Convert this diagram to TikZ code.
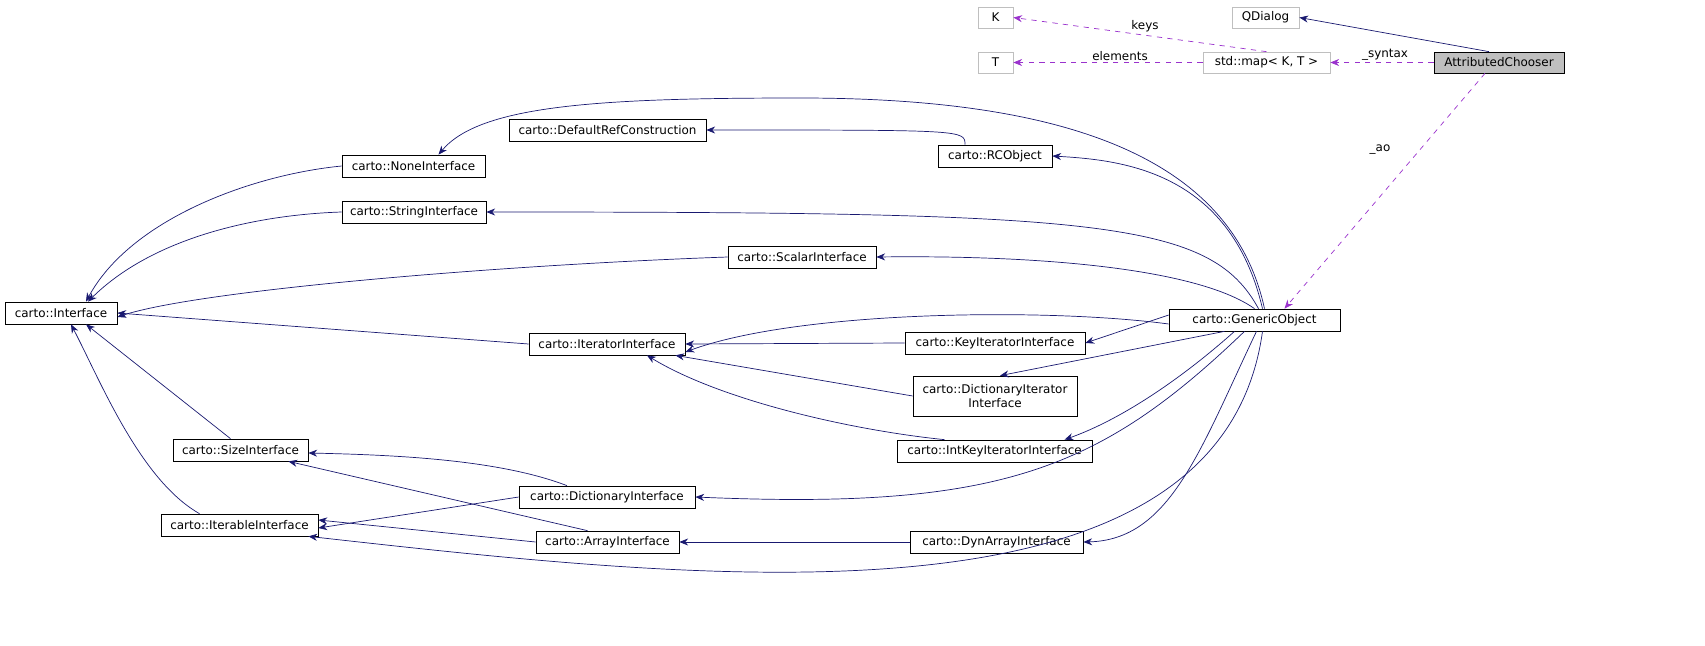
\documentclass[tikz,border=0pt]{standalone}
\usepackage{fontspec}
\setmainfont{DejaVu Sans}
\usetikzlibrary{arrows.meta}
\definecolor{navy}{HTML}{191970}
\definecolor{usecol}{HTML}{9A32CD}
\definecolor{extgray}{HTML}{BFBFBF}
\tikzset{
  cls/.style={draw=black, fill=white, inner sep=1pt, font=\fontsize{6.8}{8}\selectfont, align=center},
  ext/.style={cls, draw=extgray},
  inh/.style={navy, thin, -{Stealth[length=5pt,width=4pt]}},
  use/.style={usecol, thin, dashed, -{Stealth[length=5pt,width=4pt]}},
  lbl/.style={font=\fontsize{6.8}{8}\selectfont, inner sep=1pt, text=black}
}
\begin{document}
\begin{tikzpicture}[x=0.02cm, y=-0.02cm]

    % classes
    \node[ext, minimum width=35*0.02cm, minimum height=21*0.02cm] (k) at (995.5,17.5) {K};
    \node[ext, minimum width=67*0.02cm, minimum height=21*0.02cm] (qdlg) at (1265.5,17.5) {QDialog};
    \node[ext, minimum width=35*0.02cm, minimum height=21*0.02cm] (t) at (995.5,62.5) {T};
    \node[ext, minimum width=127*0.02cm, minimum height=21*0.02cm] (map) at (1266.5,62.5) {std::map< K, T >};
    \node[cls, fill=extgray, minimum width=130*0.02cm, minimum height=21*0.02cm] (ac) at (1499,62.5) {AttributedChooser};

    \node[cls, minimum width=143*0.02cm, minimum height=22*0.02cm] (none) at (413.5,166) {carto::NoneInterface};
    \node[cls, minimum width=197*0.02cm, minimum height=22*0.02cm] (defref) at (607.5,130) {carto::DefaultRefConstruction};
    \node[cls, minimum width=114*0.02cm, minimum height=22*0.02cm] (rc) at (995,156) {carto::RCObject};
    \node[cls, minimum width=144*0.02cm, minimum height=22*0.02cm] (str) at (414,212) {carto::StringInterface};
    \node[cls, minimum width=148*0.02cm, minimum height=22*0.02cm] (scal) at (802,257) {carto::ScalarInterface};
    \node[cls, minimum width=112*0.02cm, minimum height=22*0.02cm] (intf) at (61,313) {carto::Interface};
    \node[cls, minimum width=156*0.02cm, minimum height=22*0.02cm] (iter) at (607,344) {carto::IteratorInterface};
    \node[cls, minimum width=171*0.02cm, minimum height=22*0.02cm] (go) at (1254.5,320) {carto::GenericObject};
    \node[cls, minimum width=180*0.02cm, minimum height=22*0.02cm] (keyit) at (995,343) {carto::KeyIteratorInterface};
    \node[cls, minimum width=164*0.02cm, minimum height=40*0.02cm] (dictit) at (995,396) {carto::DictionaryIterator\\Interface};
    \node[cls, minimum width=195*0.02cm, minimum height=22*0.02cm] (intkey) at (994.5,451) {carto::IntKeyIteratorInterface};
    \node[cls, minimum width=135*0.02cm, minimum height=22*0.02cm] (size) at (240.5,450) {carto::SizeInterface};
    \node[cls, minimum width=176*0.02cm, minimum height=22*0.02cm] (dict) at (607,497) {carto::DictionaryInterface};
    \node[cls, minimum width=157*0.02cm, minimum height=22*0.02cm] (iterable) at (239.5,525) {carto::IterableInterface};
    \node[cls, minimum width=143*0.02cm, minimum height=22*0.02cm] (arr) at (607.5,542) {carto::ArrayInterface};
    \node[cls, minimum width=173*0.02cm, minimum height=22*0.02cm] (dyn) at (996.5,542) {carto::DynArrayInterface};

    % usage
    \draw[use] (map.north) -- (k.east);
    \draw[use] (map.west) -- (t.east);
    \draw[use] (ac.west) -- (map.east);
    \draw[use] ([xshift=-14*0.02cm]ac.south) -- ([xshift=30*0.02cm]go.north);
    \node[lbl] (lkeys) at (1145,26) {keys};
    \node[lbl] (lelem) at (1120,56) {elements};
    \node[lbl] (lsyn) at (1385,55) {\_syntax};
    \node[lbl] (lao) at (1380,150) {\_ao};

    % inheritance
    \draw[inh] ([xshift=-10*0.02cm]ac.north) -- (qdlg.east);
    \draw[inh] ([xshift=-30*0.02cm]rc.north) .. controls (965,130) .. (defref.east);
    \draw[inh] ([xshift=10*0.02cm]go.north) .. controls (1230,150) and (1050,98) .. (800,98)
        .. controls (600,98) and (480,105) .. ([xshift=25*0.02cm]none.north);
    \draw[inh] ([xshift=8*0.02cm]go.north) .. controls (1230,170) and (1120,160) .. (rc.east);
    \draw[inh] ([xshift=4*0.02cm]go.north) .. controls (1210,220) and (1100,212) .. (str.east);
    \draw[inh] (go.north) .. controls (1200,270) and (1050,255) .. (scal.east);
    \draw[inh] ([yshift=-4*0.02cm]go.west) .. controls (1050,308) and (800,310) .. ([yshift=-8*0.02cm]iter.east);
    \draw[inh] ([yshift=5*0.02cm]go.west) -- (keyit.east);
    \draw[inh] ([xshift=-30*0.02cm]go.south) -- ([xshift=5*0.02cm]dictit.north);
    \draw[inh] ([xshift=-20*0.02cm]go.south) .. controls (1180,380) and (1120,420) .. ([xshift=70*0.02cm]intkey.north);
    \draw[inh] ([xshift=-10*0.02cm]go.south) .. controls (1100,470) and (1000,510) .. (dict.east);
    \draw[inh] ([xshift=2*0.02cm]go.south) .. controls (1200,450) and (1170,540) .. (dyn.east);
    \draw[inh] ([xshift=8*0.02cm]go.south) .. controls (1220,640) and (700,580) .. ([xshift=-10*0.02cm]iterable.south east);

    \draw[inh] (none.west) .. controls (250,175) and (130,220) .. ([xshift=25*0.02cm]intf.north);
    \draw[inh] (str.west) .. controls (250,215) and (150,240) .. ([xshift=27*0.02cm]intf.north);
    \draw[inh] (scal.west) .. controls (500,265) and (200,290) .. ([yshift=-4*0.02cm]intf.east);
    \draw[inh] (iter.west) -- (intf.east);
    \draw[inh] ([xshift=-10*0.02cm]size.north) -- ([xshift=25*0.02cm]intf.south);
    \draw[inh] ([xshift=-40*0.02cm]iterable.north) .. controls (140,480) and (100,380) .. ([xshift=10*0.02cm]intf.south);

    \draw[inh] (keyit.west) -- (iter.east);
    \draw[inh] (dictit.west) -- ([xshift=-10*0.02cm]iter.south east);
    \draw[inh] ([xshift=-50*0.02cm]intkey.north) .. controls (850,430) and (720,400) .. ([xshift=40*0.02cm]iter.south);

    \draw[inh] ([xshift=-40*0.02cm]dict.north) .. controls (500,460) and (400,455) .. ([yshift=-3*0.02cm]size.east);
    \draw[inh] ([xshift=-20*0.02cm]arr.north) -- ([xshift=-20*0.02cm]size.south east);
    \draw[inh] (dict.west) -- ([yshift=-3*0.02cm]iterable.east);
    \draw[inh] (arr.west) -- ([yshift=5*0.02cm]iterable.east);
    \draw[inh] (dyn.west) -- (arr.east);

    \pgfresetboundingbox
    \useasboundingbox (0,0) rectangle (1705,646);
\end{tikzpicture}
\end{document}
